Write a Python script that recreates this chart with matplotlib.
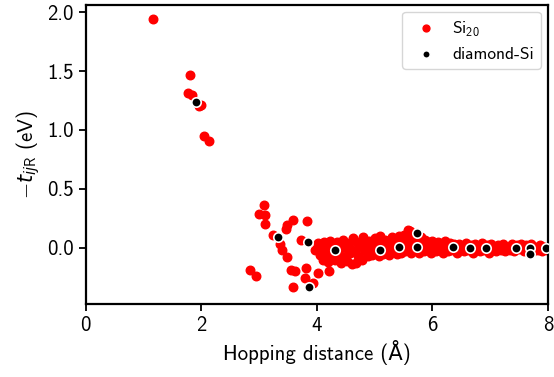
import numpy as np
import matplotlib
matplotlib.use("Agg")
import matplotlib.pyplot as plt

plt.rcParams['font.family'] = ['cmss10', 'DejaVu Sans']
plt.rcParams['mathtext.fontset'] = 'custom'
plt.rcParams['mathtext.rm'] = 'cmss10'
plt.rcParams['mathtext.sf'] = 'cmss10'
plt.rcParams['mathtext.it'] = 'DejaVu Sans:italic'
plt.rcParams['axes.unicode_minus'] = False
plt.rcParams['axes.formatter.use_mathtext'] = False

# ---- Si20 cluster hoppings (distance in A, -t in eV) ----
si20_x_sparse = [1.165, 1.80, 1.76, 1.83, 1.96, 2.00, 2.05, 2.14,
                 2.84, 2.94, 3.00, 3.08, 3.10, 3.10, 3.24, 3.36, 3.39,
                 3.47, 3.49, 3.59, 3.49, 3.56, 3.62, 3.58, 3.73, 3.79,
                 3.82, 3.835, 3.93, 3.96, 4.02, 4.05, 4.19, 4.21]
si20_y_sparse = [1.945, 1.463, 1.31, 1.30, 1.20, 1.215, 0.945, 0.91,
                 -0.19, -0.24, 0.29, 0.36, 0.28, 0.205, 0.11, 0.03, -0.02,
                 0.16, 0.195, 0.238, -0.075, -0.19, -0.20, -0.33, 0.07, -0.26,
                 -0.175, 0.23, -0.30, -0.02, -0.21, -0.03, 0.025, -0.20]

si20_x_band = [4.00, 4.02, 4.05, 4.08, 4.10, 4.12, 4.15, 4.18, 4.20, 4.22, 4.25, 4.28,
               4.32, 4.35, 4.38, 4.40, 4.42, 4.45, 4.48, 4.50, 4.52, 4.55, 4.58, 4.60,
               4.62, 4.65, 4.68, 4.70, 4.72, 4.75, 4.78, 4.80,
               4.83, 4.85, 4.88, 4.90, 4.93, 4.95, 4.98, 5.00, 5.03, 5.06, 5.08, 5.10,
               5.13, 5.15, 5.18, 5.20, 5.23, 5.25, 5.28, 5.30, 5.33, 5.35, 5.38, 5.40,
               5.43, 5.46, 5.48,
               5.50, 5.52, 5.55, 5.57, 5.59, 5.61, 5.63, 5.65, 5.68, 5.70,
               5.73, 5.76, 5.80, 5.83, 5.86, 5.88, 5.91, 5.94, 5.97, 6.00,
               6.03, 6.06, 6.09, 6.12, 6.15, 6.18, 6.21, 6.24, 6.27, 6.30, 6.33, 6.38,
               6.42, 6.46, 6.50, 6.54, 6.58, 6.62, 6.66, 6.70, 6.74, 6.78, 6.82, 6.86,
               6.90, 6.94, 6.98, 7.02, 7.06, 7.10, 7.14, 7.18, 7.22, 7.26, 7.30, 7.34,
               7.38, 7.42, 7.46, 7.50, 7.54, 7.58, 7.62, 7.66, 7.70, 7.74, 7.78, 7.82,
               7.86, 7.90, 7.94, 7.98]
si20_y_band = [0.00, 0.04, -0.06, 0.02, -0.10, 0.05, -0.04, 0.01, -0.12, 0.06, -0.07, 0.03,
               -0.10, 0.05, -0.05, 0.02, -0.13, 0.07, -0.08, 0.00, -0.11, 0.04, -0.04, -0.14,
               0.08, -0.02, -0.13, 0.05, -0.07, 0.01, -0.10, 0.09,
               -0.03, 0.04, -0.07, 0.06, -0.01, -0.06, 0.03, 0.08, -0.04, 0.02, -0.07, 0.10,
               0.04, -0.05, 0.07, -0.02, 0.05, -0.06, 0.02, 0.09, -0.03, 0.06, -0.05, 0.03,
               0.10, -0.04, 0.05,
               0.11, -0.03, 0.08, 0.15, 0.02, 0.14, -0.04, 0.09, 0.04, -0.02,
               0.07, -0.04, 0.09, 0.03, -0.03, 0.07, 0.00, 0.05, -0.04, 0.06,
               0.01, -0.03, 0.05, -0.02, 0.03, -0.04, 0.06, 0.00, -0.03, 0.04, -0.02, 0.03,
               -0.04, 0.03, 0.00, -0.03, 0.04, -0.02, 0.02, -0.04, 0.03, 0.00, -0.03, 0.04,
               -0.02, 0.02, -0.04, 0.03, 0.00, -0.03, 0.02, -0.02, 0.03, -0.03, 0.01, -0.02,
               0.03, -0.03, 0.02, -0.01, 0.03, -0.03, 0.02, -0.02, 0.03, -0.03, 0.01, -0.02,
               0.02, -0.03, 0.01, -0.02]

# ---- bulk diamond Si hoppings ----
dsi_x = [1.90, 3.33, 3.85, 3.86, 4.31, 5.10, 5.43, 5.74, 5.74, 6.36,
         6.65, 6.92, 7.45, 7.69, 7.69, 7.96]
dsi_y = [1.24, 0.088, 0.045, -0.335, -0.02, -0.015, 0.005, 0.122, 0.005, 0.005,
         0.0, -0.005, -0.005, 0.0, -0.05, 0.0]

si20_x = si20_x_sparse + si20_x_band
si20_y = si20_y_sparse + si20_y_band

fig, ax = plt.subplots(figsize=(5.54, 3.77), dpi=100)
fig.subplots_adjust(left=0.155, right=0.989, bottom=0.194, top=0.987)

ax.scatter(si20_x, si20_y, s=38, color='#ff0000', label=r'Si$_{\mathrm{20}}$', zorder=2)
ax.scatter(dsi_x, dsi_y, s=46, color='black', edgecolors='white',
           linewidths=1.2, label='diamond-Si', zorder=3)

ax.set_xlim(0, 8)
ax.set_ylim(-0.476, 2.062)
ax.set_xticks([0, 2, 4, 6, 8])
ax.set_yticks([0.0, 0.5, 1.0, 1.5, 2.0])
ax.set_xlabel('Hopping distance (Å)', fontsize=15)
ax.set_ylabel(r'$-t_{ij\mathrm{R}}$ (eV)', fontsize=15)
ax.tick_params(labelsize=15, width=1.3, length=5)
for sp in ax.spines.values():
    sp.set_linewidth(1.6)

ax.legend(loc='upper right', fontsize=12.5, handletextpad=0.5, markerscale=0.8,
          borderpad=0.4, borderaxespad=0.4, framealpha=0.8)

plt.savefig('out.png', dpi=100)
